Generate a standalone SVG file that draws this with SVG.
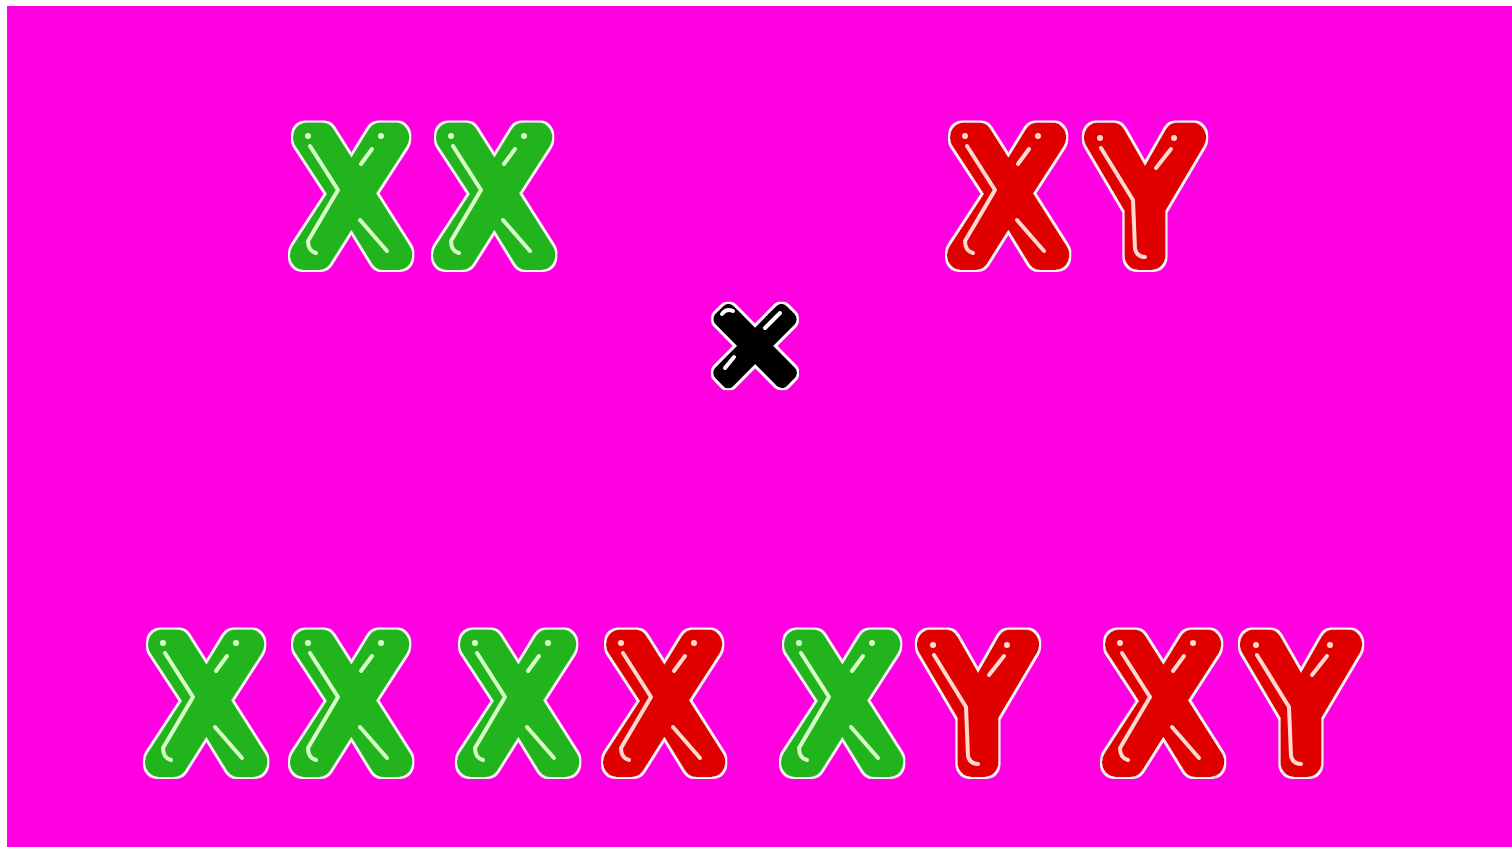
<svg xmlns="http://www.w3.org/2000/svg" xmlns:xlink="http://www.w3.org/1999/xlink" width="1512" height="847" viewBox="0 0 1512 847">
<style>
.chr{font-family:"Liberation Sans",Arial,sans-serif;font-size:170px;text-anchor:middle;stroke-width:30;stroke-linejoin:round;stroke-linecap:round;filter:url(#outline)}
.g{fill:#22B41E;stroke:#22B41E}
.r{fill:#E00404;stroke:#E00404}
.k{font-family:"Liberation Sans",Arial,sans-serif;font-size:155px;text-anchor:middle;fill:#000;stroke:#000;stroke-width:15;stroke-linejoin:round;filter:url(#outlineK)}
.hl{fill:none;stroke-width:4;stroke-linecap:round;stroke-linejoin:round}
.hg{stroke:#D8FFC8}
.hr{stroke:#FFD8D0}
.dg{fill:#D8FFC8}
.dr{fill:#FFD8D0}
</style>
<defs>
<filter id="outline" x="-15%" y="-15%" width="130%" height="130%">
<feMorphology in="SourceAlpha" operator="dilate" radius="2" result="d"/>
<feFlood flood-color="#F2F2F2" result="w"/>
<feComposite in="w" in2="d" operator="in" result="o"/>
<feMerge><feMergeNode in="o"/><feMergeNode in="SourceGraphic"/></feMerge>
</filter>
<filter id="outlineK" x="-15%" y="-15%" width="130%" height="130%">
<feMorphology in="SourceAlpha" operator="dilate" radius="1.5" result="d"/>
<feFlood flood-color="#FFFFFF" result="w"/>
<feComposite in="w" in2="d" operator="in" result="o"/>
<feMerge><feMergeNode in="o"/><feMergeNode in="SourceGraphic"/></feMerge>
</filter>
<g id="hlXg">
<path class="hl hg" d="M-41,-48 L-13,-4 L-43,47 Q-43,57 -35,59"/>
<path class="hl hg" d="M21,-45 L10,-30"/>
<path class="hl hg" d="M9,26 L36,57"/>
<circle class="dg" cx="-43" cy="-58" r="3"/>
<circle class="dg" cx="30" cy="-58" r="3"/>
</g>
<g id="hlXr">
<path class="hl hr" d="M-41,-48 L-13,-4 L-43,47 Q-43,57 -35,59"/>
<path class="hl hr" d="M21,-45 L10,-30"/>
<path class="hl hr" d="M9,26 L36,57"/>
<circle class="dr" cx="-43" cy="-58" r="3"/>
<circle class="dr" cx="30" cy="-58" r="3"/>
</g>
<g id="hlYr">
<path class="hl hr" d="M-44,-46 L-12,6 L-10,55 Q-8,63 0,63"/>
<path class="hl hr" d="M26,-45 L11,-26"/>
<circle class="dr" cx="-45" cy="-56" r="3"/>
<circle class="dr" cx="29" cy="-56" r="3"/>
</g>
</defs>
<rect x="0" y="0" width="1512" height="847" fill="#FFFFFF"/>
<rect id="background" x="7" y="6" width="1505" height="841" fill="#FF00E1"/>

<g id="parent-female">
<g id="p1-x1"><text class="chr g" transform="translate(351,255) scale(0.9,1)">X</text><use href="#hlXg" transform="translate(351,194)"/></g>
<g id="p1-x2"><text class="chr g" transform="translate(494,255) scale(0.9,1)">X</text><use href="#hlXg" transform="translate(494,194)"/></g>
</g>
<g id="parent-male">
<g id="p2-x"><text class="chr r" transform="translate(1008,255) scale(0.9,1)">X</text><use href="#hlXr" transform="translate(1008,194)"/></g>
<g id="p2-y"><text class="chr r" transform="translate(1145,255) scale(0.9,1)">Y</text><use href="#hlYr" transform="translate(1145,194)"/></g>
</g>
<g id="cross-symbol">
<text class="k" x="755" y="398">×</text>
<path class="hl" stroke="#FFFFFF" stroke-width="3" d="M722,314 Q726,308 733,311"/>
<path class="hl" stroke="#FFFFFF" stroke-width="3" d="M780,313 L765,328"/>
<path class="hl" stroke="#FFFFFF" stroke-width="3" d="M734,357 L725,368"/>
</g>

<g id="offspring-1">
<g id="o1-x1"><text class="chr g" transform="translate(206,762) scale(0.9,1)">X</text><use href="#hlXg" transform="translate(206,701)"/></g>
<g id="o1-x2"><text class="chr g" transform="translate(351,762) scale(0.9,1)">X</text><use href="#hlXg" transform="translate(351,701)"/></g>
</g>
<g id="offspring-2">
<g id="o2-x1"><text class="chr g" transform="translate(518,762) scale(0.9,1)">X</text><use href="#hlXg" transform="translate(518,701)"/></g>
<g id="o2-x2"><text class="chr r" transform="translate(664,762) scale(0.9,1)">X</text><use href="#hlXr" transform="translate(664,701)"/></g>
</g>
<g id="offspring-3">
<g id="o3-x"><text class="chr g" transform="translate(842,762) scale(0.9,1)">X</text><use href="#hlXg" transform="translate(842,701)"/></g>
<g id="o3-y"><text class="chr r" transform="translate(978,762) scale(0.9,1)">Y</text><use href="#hlYr" transform="translate(978,701)"/></g>
</g>
<g id="offspring-4">
<g id="o4-x"><text class="chr r" transform="translate(1163,762) scale(0.9,1)">X</text><use href="#hlXr" transform="translate(1163,701)"/></g>
<g id="o4-y"><text class="chr r" transform="translate(1301,762) scale(0.9,1)">Y</text><use href="#hlYr" transform="translate(1301,701)"/></g>
</g>
</svg>
